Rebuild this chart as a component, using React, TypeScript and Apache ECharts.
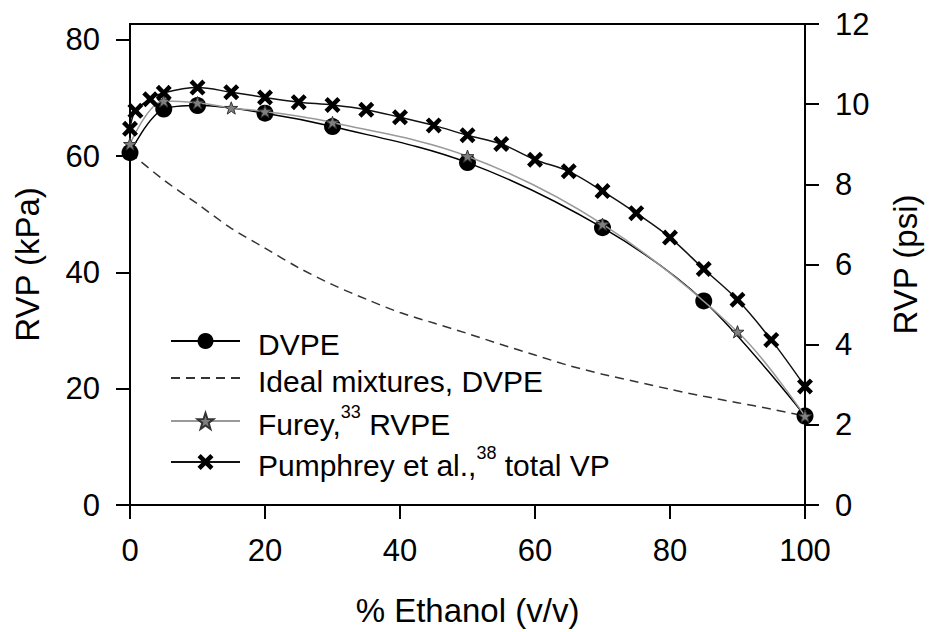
import React, { useEffect, useRef } from "react";
import * as echarts from "echarts";

const dvpeX = [0, 5, 10, 20, 30, 50, 70, 85, 100];
const dvpeY = [60.6, 68.1, 68.7, 67.4, 65.1, 58.9, 47.7, 35.1, 15.3];

const idealX = [0, 5, 10, 15, 20, 25, 30, 35, 40, 45, 50, 55, 60, 65, 70, 75, 80, 85, 90, 95, 100];
const idealY = [60.6, 55.9, 51.8, 47.6, 44.2, 40.8, 37.9, 35.4, 33.1, 31.3, 29.5, 27.6, 25.8, 24.0, 22.5, 21.2, 19.9, 18.7, 17.6, 16.5, 15.3];

const fureyX = [0, 5, 10, 15, 20, 30, 50, 70, 90, 100];
const fureyY = [62.1, 69.5, 69.2, 68.3, 67.7, 65.8, 60.0, 48.3, 29.8, 15.3];

const pumX = [0, 0.8, 3, 5, 10, 15, 20, 25, 30, 35, 40, 45, 50, 55, 60, 65, 70, 75, 80, 85, 90, 95, 100];
const pumY = [64.7, 67.8, 69.8, 70.9, 71.8, 71.0, 70.1, 69.3, 68.8, 68.0, 66.7, 65.3, 63.6, 62.1, 59.4, 57.4, 54.0, 50.2, 46.0, 40.6, 35.3, 28.4, 20.4];

const kpaTicks = [0, 20, 40, 60, 80];
const xTicksInterval = 20;
const psiMax = 12;
const kpaMax = 82.74; // 12 psi in kPa

const FONT = "Liberation Sans, Arial, sans-serif";

const starPath =
  "path://M50,0L61.8,33.8L97.6,34.5L69,56.2L79.4,90.5L50,70L20.6,90.5L31,56.2L2.4,34.5L38.2,33.8Z";
const xPath =
  "path://M0,2L2,0L5,3L8,0L10,2L7,5L10,8L8,10L5,7L2,10L0,8L3,5Z";

const zip = (xs: number[], ys: number[]) => xs.map((x, i) => [x, ys[i]]);

export default function App() {
  const ref = useRef<HTMLDivElement>(null);
  useEffect(() => {
    if (!ref.current) return;
    const chart = echarts.init(ref.current, null, { renderer: "svg" });
    const rich = {
      n: { fontSize: 30, fontFamily: FONT, color: "#000", lineHeight: 36, verticalAlign: "bottom" as const },
      s: { fontSize: 18, fontFamily: FONT, color: "#000", lineHeight: 18, verticalAlign: "top" as const },
    };
    const legendBase = {
      left: 170,
      orient: "vertical" as const,
      padding: 0,
      itemWidth: 69,
      itemHeight: 20,
      selectedMode: false,
      textStyle: { fontSize: 30, fontFamily: FONT, color: "#000", padding: [0, 0, 0, 13], rich },
    };
    const axisText = { fontSize: 31, fontFamily: FONT, color: "#000" };
    chart.setOption({
      animation: false,
      backgroundColor: "#fff",
      grid: { left: 130, right: 128, top: 24, bottom: 123, show: true, borderColor: "#000", borderWidth: 2 },
      xAxis: {
        type: "value",
        min: 0,
        max: 100,
        interval: xTicksInterval,
        name: "% Ethanol (v/v)",
        nameLocation: "middle",
        nameGap: 89,
        nameTextStyle: { fontSize: 33, fontFamily: FONT, color: "#000" },
        axisLine: { show: true, onZero: false, lineStyle: { color: "#000", width: 2 } },
        axisTick: { show: true, inside: false, length: 14, lineStyle: { color: "#000", width: 2 } },
        axisLabel: { ...axisText, margin: 30 },
        splitLine: { show: false },
      },
      yAxis: [
        {
          type: "value",
          min: 0,
          max: kpaMax,
          position: "left",
          name: "RVP (kPa)",
          nameLocation: "middle",
          nameRotate: 90,
          nameGap: 86,
          nameTextStyle: { fontSize: 33, fontFamily: FONT, color: "#000" },
          axisLine: { show: true, onZero: false, lineStyle: { color: "#000", width: 2 } },
          axisTick: { show: true, length: 14, customValues: kpaTicks, lineStyle: { color: "#000", width: 2 } },
          axisLabel: { ...axisText, margin: 30, customValues: kpaTicks },
          splitLine: { show: false },
        },
        {
          type: "value",
          min: 0,
          max: psiMax,
          interval: 2,
          position: "right",
          name: "RVP (psi)",
          nameLocation: "middle",
          nameRotate: 90,
          nameGap: 84,
          nameTextStyle: { fontSize: 33, fontFamily: FONT, color: "#000" },
          axisLine: { show: true, onZero: false, lineStyle: { color: "#000", width: 2 } },
          axisTick: { show: true, length: 14, lineStyle: { color: "#000", width: 2 } },
          axisLabel: { ...axisText, margin: 30 },
          splitLine: { show: false },
        },
      ],
      legend: [
        { ...legendBase, top: 329, data: ["DVPE"], formatter: () => "{n|DVPE}" },
        {
          ...legendBase,
          top: 366,
          data: ["Ideal mixtures, DVPE"],
          itemStyle: { opacity: 0 },
          formatter: () => "{n|Ideal mixtures, DVPE}",
        },
        { ...legendBase, top: 403, data: ["Furey, RVPE"], formatter: () => "{n|Furey,}{s|33}{n| RVPE}" },
        { ...legendBase, top: 444, data: ["Pumphrey et al., total VP"], formatter: () => "{n|Pumphrey et al.,}{s|38}{n| total VP}" },
      ],
      series: [
        {
          name: "DVPE",
          type: "line",
          data: zip(dvpeX, dvpeY),
          smooth: 0.35,
          clip: false,
          symbol: "circle",
          symbolSize: 17,
          itemStyle: { color: "#000" },
          lineStyle: { color: "#000", width: 1.5 },
          z: 2,
        },
        {
          name: "Ideal mixtures, DVPE",
          type: "line",
          data: zip(idealX, idealY),
          smooth: 0.3,
          clip: false,
          showSymbol: false,
          symbol: "none",
          itemStyle: { color: "#333" },
          lineStyle: { color: "#333", width: 1.5, type: [9, 6] },
          z: 1,
        },
        {
          name: "Furey, RVPE",
          type: "line",
          data: zip(fureyX, fureyY),
          smooth: 0.35,
          clip: false,
          symbol: starPath,
          symbolSize: 13,
          symbolKeepAspect: true,
          itemStyle: { color: "#808080", borderColor: "#333", borderWidth: 1 },
          lineStyle: { color: "#999", width: 1.5 },
          z: 3,
        },
        {
          name: "Pumphrey et al., total VP",
          type: "line",
          data: zip(pumX, pumY),
          smooth: 0.35,
          clip: false,
          symbol: xPath,
          symbolSize: 16,
          itemStyle: { color: "#000" },
          lineStyle: { color: "#111", width: 1.5 },
          z: 4,
        },
      ],
    });
    return () => chart.dispose();
  }, []);
  return (
    <div
      ref={ref}
      style={{ position: "fixed", left: 0, top: 0, width: 933, height: 632, background: "#fff" }}
    />
  );
}
